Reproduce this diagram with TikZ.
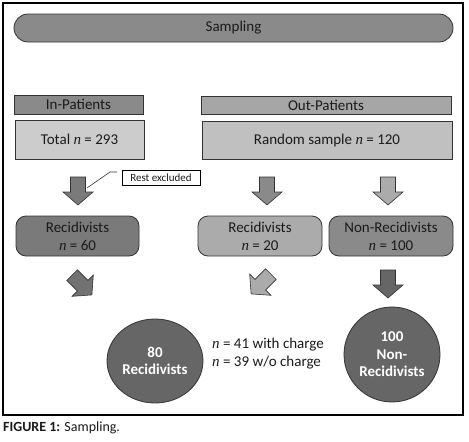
\documentclass[tikz,border=0pt]{standalone}
\usepackage{fontspec}
\setmainfont{Carlito}
\newfontfamily\serfont{Liberation Serif}
\usetikzlibrary{shapes.geometric}
\newcommand{\nn}{{\serfont\itshape n}}
\definecolor{txt}{HTML}{1A1A1A}
\definecolor{edge}{HTML}{333333}
\tikzset{
  box/.style={draw=edge, line width=0.8pt, text=txt, align=center, inner sep=0pt,
    font=\fontsize{15}{18}\selectfont},
  rbox/.style={box, rounded corners=10pt},
  blob/.style={ellipse, draw=edge, line width=0.8pt, fill=c66, text=white, align=center,
    inner sep=0pt, font=\bfseries\fontsize{15}{17.5}\selectfont},
  arr/.style={draw=edge, line width=0.6pt},
  barrow/.pic={\filldraw[pic actions] (-7.5,-14) -- (7.5,-14) -- (7.5,1) -- (15,1) -- (0,14) -- (-15,1) -- (-7.5,1) -- cycle;}
}
\definecolor{c66}{HTML}{666666}
\definecolor{c70}{HTML}{727272}
\definecolor{c77}{HTML}{7A7A7A}
\definecolor{c88}{HTML}{8A8A8A}
\definecolor{cA6}{HTML}{A6A6A6}
\definecolor{cAA}{HTML}{ABABAB}
\definecolor{cC0}{HTML}{C0C0C0}
\definecolor{cCC}{HTML}{CCCCCC}
\begin{document}
\begin{tikzpicture}[x=1pt,y=-1pt]
\useasboundingbox (0,0) rectangle (469,442);
\draw[line width=1.2pt] (3,3) rectangle (463,415);
% top bar
\node[box, fill=c88, rounded corners=14pt, minimum width=439pt, minimum height=28pt] (samp) at (233.5,28) {Sampling};
% headers
\node[box, fill=c88, minimum width=129pt, minimum height=19pt] (inp) at (78.5,104.5) {In-Patients};
\node[box, fill=cA6, minimum width=250pt, minimum height=18pt] (outp) at (326,105) {Out-Patients};
\node[box, fill=cCC, minimum width=129pt, minimum height=39pt] (tot) at (79.5,139.5) {Total \nn{} = 293};
\node[box, fill=cC0, minimum width=250pt, minimum height=38pt] (rand) at (327,140) {Random sample \nn{} = 120};
% rest excluded
\node[draw=black, line width=0.8pt, fill=white, text=txt, inner sep=0pt, minimum width=78pt, minimum height=15pt, font=\fontsize{11}{13}\selectfont] (rest) at (161,177.5) {Rest excluded};
\coordinate (c1) at (117,172);
\coordinate (c2) at (110,172);
\coordinate (c3) at (87,188);
\draw[edge, line width=0.6pt] (c1) -- (c2) -- (c3);
% middle row
\node[rbox, fill=c77, minimum width=123pt, minimum height=40pt] (r60) at (77.5,236) {Recidivists\\\nn{} = 60};
\node[rbox, fill=cAA, minimum width=124pt, minimum height=40pt] (r20) at (260,236) {Recidivists\\\nn{} = 20};
\node[rbox, fill=c88, minimum width=124pt, minimum height=40pt] (nr) at (391,236) {Non-Recidivists\\\nn{} = 100};
% arrows top
\pic[arr, fill=c77] at (78,191) {barrow};
\pic[arr, fill=c88] at (267,191) {barrow};
\pic[arr, fill=cAA] at (388,191) {barrow};
% arrows bottom
\pic[arr, fill=c70, rotate=45] at (82,285) {barrow};
\pic[arr, fill=cAA, rotate=-45] at (261,284) {barrow};
\pic[arr, fill=c66] at (388,284) {barrow};
% circles
\node[blob, minimum width=96pt, minimum height=84pt] (b80) at (155,361) {80\\Recidivists};
\node[blob, minimum width=96pt, minimum height=95pt] (b100) at (392,354.5) {100\\Non-\\Recidivists};
\node[anchor=west, text=txt, align=left, inner sep=0pt, font=\fontsize{15}{18}\selectfont] (chg) at (212,354) {\nn{} = 41 with charge\\\nn{} = 39 w/o charge};
% caption
\node[anchor=west, inner sep=0pt, text=txt, font=\fontsize{14}{16}\selectfont] (cap) at (3,428) {\textbf{FIGURE 1:} Sampling.};
\end{tikzpicture}
\end{document}
